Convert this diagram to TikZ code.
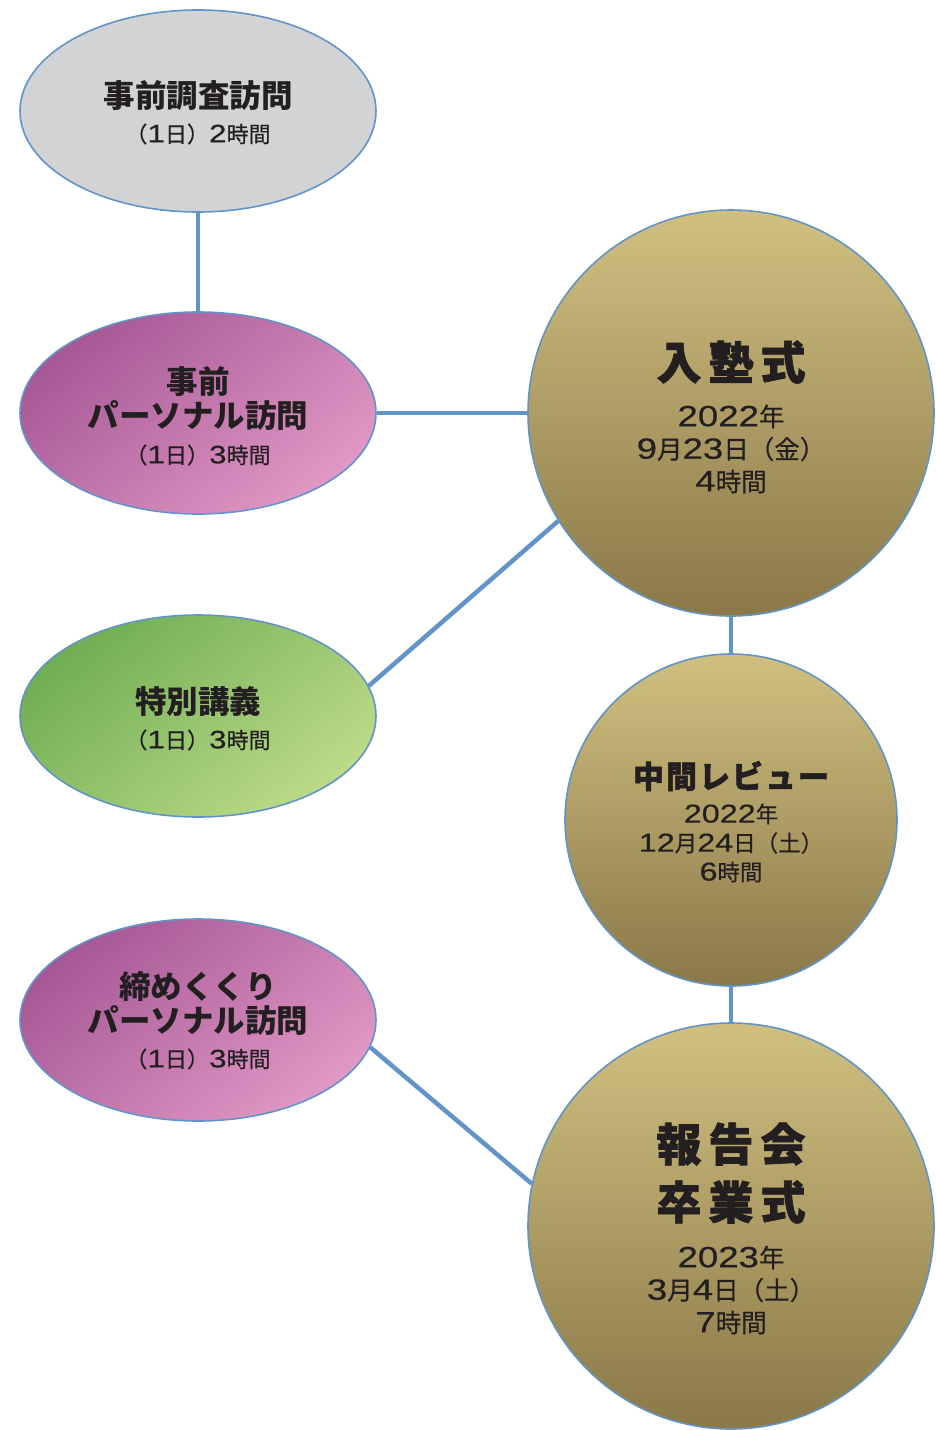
\documentclass[tikz,border=0pt]{standalone}
\usepackage{fontspec}
\setmainfont{Noto Sans CJK JP}
\newfontfamily\heavyfont{Noto Sans CJK JP}[BoldFeatures={FakeBold=1.6}]
\newfontfamily\plainfont{Noto Sans CJK JP}[FakeBold=0.5]
\newfontfamily\numfont{Liberation Sans}[Scale=1.15,FakeStretch=1.25,FakeBold=0.4]
\newcommand\fig[1]{{\numfont #1}}
\usetikzlibrary{shapes.geometric}

\definecolor{linkblue}{RGB}{98,148,200}
\definecolor{ink}{RGB}{35,31,32}
\definecolor{greyfill}{RGB}{209,211,212}
\definecolor{pinkdark}{RGB}{166,88,150}
\definecolor{pinklight}{RGB}{224,152,196}
\definecolor{greendark}{RGB}{112,174,84}
\definecolor{greenlight}{RGB}{188,218,136}
\definecolor{goldtop}{RGB}{208,192,128}
\definecolor{goldbot}{RGB}{138,120,72}

\begin{document}
\begin{tikzpicture}[x=1pt,y=-1pt,
  oval/.style={ellipse,draw=linkblue,line width=1.6pt,minimum width=356pt,minimum height=202pt,inner sep=0pt},
  pinkoval/.style={oval,top color=pinkdark,bottom color=pinklight,shading angle=40},
  greenoval/.style={oval,top color=greendark,bottom color=greenlight,shading angle=40},
  disc/.style={circle,draw=linkblue,line width=1.6pt,inner sep=0pt,top color=goldtop,bottom color=goldbot},
  link/.style={draw=linkblue,line width=4.5pt},
  head/.style={text=ink,align=center,font=\fontsize{31.5}{34}\selectfont\bfseries},
  sub/.style={text=ink,font=\plainfont\fontsize{22}{22}\selectfont},
  big/.style={text=ink,align=center,font=\heavyfont\fontsize{45}{58}\selectfont\bfseries},
  mid/.style={text=ink,font=\heavyfont\fontsize{31}{31}\selectfont\bfseries},
  date/.style={text=ink,align=center,font=\plainfont\fontsize{25.5}{32.5}\selectfont},
  smalldate/.style={text=ink,align=center,font=\plainfont\fontsize{22.5}{29}\selectfont}]

\useasboundingbox (0,0) rectangle (935,1430);

% left column
\node[oval,fill=greyfill] (pre) at (198,111) {};
\node[pinkoval] (visit) at (198,413) {};
\node[greenoval] (lecture) at (198,716) {};
\node[pinkoval] (close) at (198,1020) {};

% right column
\node[disc,minimum size=406pt] (entry) at (731,413) {};
\node[disc,minimum size=332pt] (review) at (731,820) {};
\node[disc,minimum size=406pt] (report) at (731,1226) {};

\draw[link] (pre.south) -- (visit.north);
\draw[link] (visit.east) -- (entry.west);
\draw[link] (lecture.10) -- (entry.212);
\draw[link] (entry.south) -- (review.north);
\draw[link] (review.south) -- (report.north);
\draw[link] (close.351) -- (report.168);

\node[head] (preT) at (198,96) {事前調査訪問};
\node[sub] (preS) at (198,134) {（\fig{1}日）\fig{2}時間};
\node[head] (visitT) at (198,399) {事前\\パーソナル訪問};
\node[sub] (visitS) at (198,455) {（\fig{1}日）\fig{3}時間};
\node[head] (lectureT) at (198,702) {特別講義};
\node[sub] (lectureS) at (198,740) {（\fig{1}日）\fig{3}時間};
\node[head] (closeT) at (198,1004) {締めくくり\\パーソナル訪問};
\node[sub] (closeS) at (198,1059) {（\fig{1}日）\fig{3}時間};

\node[big] (entryT) at (731,362) {入\hspace{7pt}塾\hspace{7pt}式};
\node[date] (entryD) at (731,449) {\fig{2022}年\\\fig{9}月\fig{23}日（金）\\\fig{4}時間};
\node[mid] (reviewT) at (731,776) {中\hspace{2pt}間\hspace{2pt}レ\hspace{2pt}ビ\hspace{2pt}ュ\hspace{2pt}ー};
\node[smalldate] (reviewD) at (731,843) {\fig{2022}年\\\fig{12}月\fig{24}日（土）\\\fig{6}時間};
\node[big] (reportT) at (731,1173) {報\hspace{7pt}告\hspace{7pt}会\\卒\hspace{7pt}業\hspace{7pt}式};
\node[date] (reportD) at (731,1290) {\fig{2023}年\\\fig{3}月\fig{4}日（土）\\\fig{7}時間};

\end{tikzpicture}
\end{document}
